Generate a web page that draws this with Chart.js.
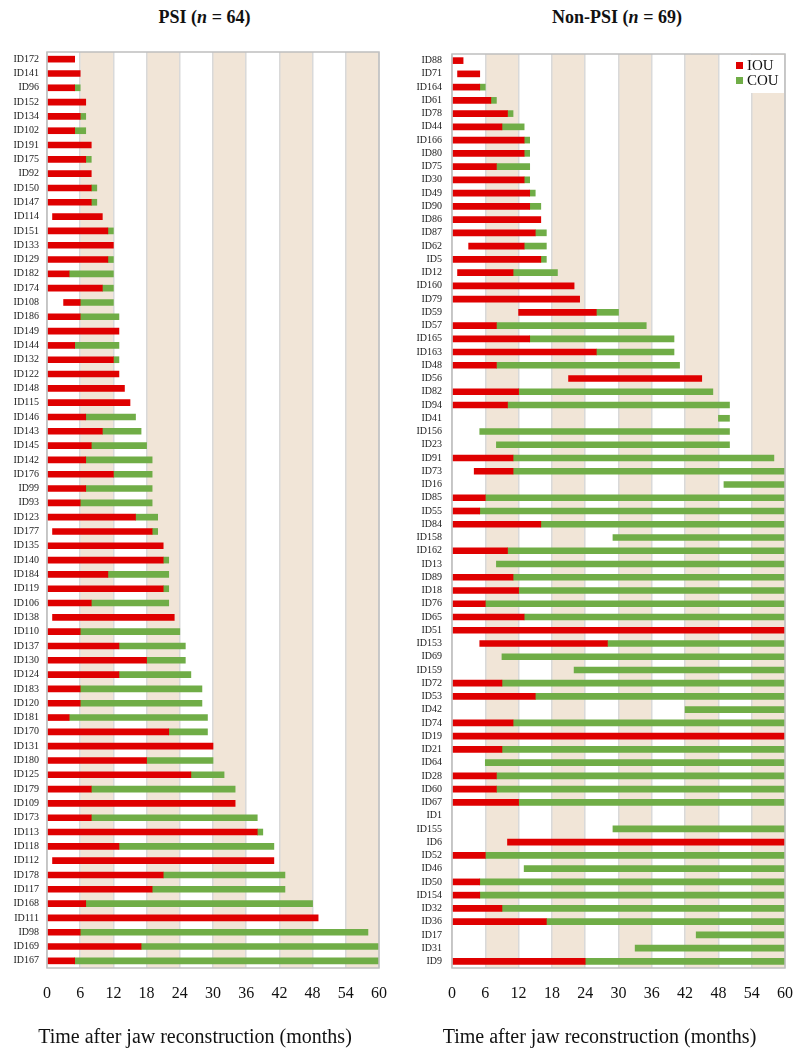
<!DOCTYPE html>
<html>
<head>
<meta charset="utf-8">
<script src="https://cdn.jsdelivr.net/npm/chart.js@4.4.1/dist/chart.umd.min.js"></script>
<style>
  body { margin: 0; background: #fff; width: 799px; height: 1057px; position: relative; overflow: hidden; }
  .panel { position: absolute; top: 0; height: 1057px; }
  .title { position: absolute; top: 7px; font: bold 18px "Liberation Serif", serif; color: #111; text-align: center; }
</style>
</head>
<body>
<div class="title" style="left:0; width:409px;">PSI (<i>n</i> = 64)</div>
<div class="title" style="left:400px; width:434px;">Non-PSI (<i>n</i> = 69)</div>
<div class="panel" style="left:0; width:400px;"><canvas id="psi-chart"></canvas></div>
<div class="panel" style="left:400px; width:399px;"><canvas id="nonpsi-chart"></canvas></div>
<script>
// PSI group: patient ids, start of IOU, end of IOU, end of COU (months)
const psiIds = ['ID172','ID141','ID96','ID152','ID134','ID102','ID191','ID175','ID92','ID150',
  'ID147','ID114','ID151','ID133','ID129','ID182','ID174','ID108','ID186','ID149',
  'ID144','ID132','ID122','ID148','ID115','ID146','ID143','ID145','ID142','ID176',
  'ID99','ID93','ID123','ID177','ID135','ID140','ID184','ID119','ID106','ID138',
  'ID110','ID137','ID130','ID124','ID183','ID120','ID181','ID170','ID131','ID180',
  'ID125','ID179','ID109','ID173','ID113','ID118','ID112','ID178','ID117','ID168',
  'ID111','ID98','ID169','ID167'];
const psiStart = [0,0,0,0,0,0,0,0,0,0,
  0,1,0,0,0,0,0,3,0,0,
  0,0,0,0,0,0,0,0,0,0,
  0,0,0,1,0,0,0,0,0,1,
  0,0,0,0,0,0,0,0,0,0,
  0,0,0,0,0,0,1,0,0,0,
  0,0,0,0];
const psiIouEnd = [5,6,5,7,6,5,8,7,8,8,
  8,10,11,12,11,4,10,6,6,13,
  5,12,13,14,15,7,10,8,7,12,
  7,6,16,19,21,21,11,21,8,23,
  6,13,18,13,6,6,4,22,30,18,
  26,8,34,8,38,13,41,21,19,7,
  49,6,17,5];
const psiCouEnd = [5,6,6,7,7,7,8,8,8,9,
  9,10,12,12,12,12,12,12,13,13,
  13,13,13,14,15,16,17,18,19,19,
  19,19,20,20,21,22,22,22,22,23,
  24,25,25,26,28,28,29,29,30,30,
  32,34,34,38,39,41,41,43,43,48,
  49,58,60,60];

// Non-PSI group (ID1 has no recorded period)
const nonPsiIds = ['ID88','ID71','ID164','ID61','ID78','ID44','ID166','ID80','ID75','ID30',
  'ID49','ID90','ID86','ID87','ID62','ID5','ID12','ID160','ID79','ID59',
  'ID57','ID165','ID163','ID48','ID56','ID82','ID94','ID41','ID156','ID23',
  'ID91','ID73','ID16','ID85','ID55','ID84','ID158','ID162','ID13','ID89',
  'ID18','ID76','ID65','ID51','ID153','ID69','ID159','ID72','ID53','ID42',
  'ID74','ID19','ID21','ID64','ID28','ID60','ID67','ID1','ID155','ID6',
  'ID52','ID46','ID50','ID154','ID32','ID36','ID17','ID31','ID9'];
const nonPsiStart = [0,1,0,0,0,0,0,0,0,0,
  0,0,0,0,3,0,1,0,0,12,
  0,0,0,0,21,0,0,48,5,8,
  0,4,49,0,0,0,29,0,8,0,
  0,0,0,0,5,9,22,0,0,42,
  0,0,0,6,0,0,0,null,29,10,
  0,13,0,0,0,0,44,33,0];
const nonPsiIouEnd = [2,5,5,7,10,9,13,13,8,13,
  14,14,16,15,13,16,11,22,23,26,
  8,14,26,8,45,12,10,48,5,8,
  11,11,49,6,5,16,29,10,8,11,
  12,6,13,60,28,9,22,9,15,42,
  11,60,9,6,8,8,12,null,29,60,
  6,13,5,5,9,17,44,33,24];
const nonPsiCouEnd = [2,5,6,8,11,13,14,14,14,14,
  15,16,16,17,17,17,19,22,23,30,
  35,40,40,41,45,47,50,50,50,50,
  58,60,60,60,60,60,60,60,60,60,
  60,60,60,60,60,60,60,60,60,60,
  60,60,60,60,60,60,60,null,60,60,
  60,60,60,60,60,60,60,60,60];

// Axis ticks and shaded 6-month bands
const monthTicks = [0, 6, 12, 18, 24, 30, 36, 42, 48, 54, 60];
const shadedBands = [[6, 12], [18, 24], [30, 36], [42, 48], [54, 60]];

const IOU_COLOR = '#df0000';
const COU_COLOR = '#70ad47';
const BAND_COLOR = '#f1e5d7';
const GRID_COLOR = '#d9d9d9';
const SERIF = '"Liberation Serif", "DejaVu Serif", serif';

/**
 * Background bands behind the grid, and a full border round the plot
 */
const bandsPlugin = {
  id: 'bands',
  beforeDraw(chart) {
    const { ctx, chartArea, scales } = chart;
    ctx.save();
    ctx.fillStyle = BAND_COLOR;
    shadedBands.forEach(([a, b]) => {
      const x0 = scales.x.getPixelForValue(a);
      const x1 = scales.x.getPixelForValue(b);
      ctx.fillRect(x0, chartArea.top, x1 - x0, chartArea.bottom - chartArea.top);
    });
    ctx.restore();
  },
  afterDraw(chart) {
    const { ctx, chartArea } = chart;
    ctx.save();
    ctx.strokeStyle = '#bfbfbf';
    ctx.lineWidth = 1.5;
    ctx.strokeRect(chartArea.left, chartArea.top, chartArea.right - chartArea.left, chartArea.bottom - chartArea.top);
    ctx.restore();
  }
};

/**
 * Legend box drawn inside the top-right corner of the plot
 */
const cornerLegendPlugin = {
  id: 'cornerLegend',
  afterDatasetsDraw(chart) {
    const { ctx, chartArea } = chart;
    const right = chartArea.right;
    const top = chartArea.top;
    ctx.save();
    ctx.fillStyle = '#fff';
    ctx.fillRect(right - 54, top + 1, 53, 38);
    const items = [['IOU', IOU_COLOR], ['COU', COU_COLOR]];
    ctx.font = '15px ' + SERIF;
    ctx.textBaseline = 'middle';
    items.forEach(([label, color], i) => {
      const y = top + 11.5 + i * 15;
      ctx.fillStyle = color;
      ctx.fillRect(right - 49, y - 3.5, 7, 7);
      ctx.fillStyle = '#111';
      ctx.fillText(label, right - 38, y + 0.5);
    });
    ctx.restore();
  }
};

function buildChart(canvasId, ids, starts, iouEnds, couEnds, opts) {
  const iouData = ids.map((_, i) =>
    starts[i] !== null && iouEnds[i] > starts[i] ? [starts[i], iouEnds[i]] : null);
  const couData = ids.map((_, i) =>
    iouEnds[i] !== null && couEnds[i] > iouEnds[i] ? [iouEnds[i], couEnds[i]] : null);

  const canvas = document.getElementById(canvasId);
  canvas.width = opts.width;
  canvas.height = 1057;

  const plugins = [bandsPlugin];
  if (opts.legend) plugins.push(cornerLegendPlugin);

  return new Chart(canvas.getContext('2d'), {
    type: 'bar',
    data: {
      labels: ids,
      datasets: [
        { label: 'IOU', data: iouData, backgroundColor: IOU_COLOR, barThickness: 6, grouped: false },
        { label: 'COU', data: couData, backgroundColor: COU_COLOR, barThickness: 6, grouped: false }
      ]
    },
    plugins: plugins,
    options: {
      indexAxis: 'y',
      responsive: false,
      animation: false,
      layout: {
        padding: { top: opts.top, right: opts.titlePad, left: 0, bottom: 0 }
      },
      plugins: {
        legend: { display: false },
        tooltip: { enabled: false },
        title: {
          display: true,
          position: 'bottom',
          text: 'Time after jaw reconstruction (months)',
          color: '#111',
          font: { family: SERIF, size: 20, weight: 'normal' },
          padding: { top: 10, bottom: 7 }
        }
      },
      scales: {
        x: {
          type: 'linear',
          min: 0,
          max: 60,
          afterBuildTicks: (scale) => {
            scale.ticks = monthTicks.map(v => ({ value: v }));
          },
          afterFit: (scale) => {
            scale.height = 48;
            scale.paddingLeft = 0;
            scale.paddingRight = opts.right;
          },
          grid: { color: GRID_COLOR, lineWidth: 1.5, drawTicks: false },
          border: { display: false },
          ticks: {
            color: '#111',
            padding: 16,
            font: { family: SERIF, size: 16 }
          }
        },
        y: {
          type: 'category',
          afterFit: (scale) => { scale.width = opts.axisWidth; },
          grid: { display: false, drawTicks: false },
          border: { display: false },
          ticks: {
            color: '#222',
            padding: opts.labelPad,
            autoSkip: false,
            font: { family: SERIF, size: 10 }
          }
        }
      }
    }
  });
}

buildChart('psi-chart', psiIds, psiStart, psiIouEnd, psiCouEnd,
  { width: 400, top: 52, right: 21, titlePad: 10, axisWidth: 47, labelPad: 8, legend: false });
buildChart('nonpsi-chart', nonPsiIds, nonPsiStart, nonPsiIouEnd, nonPsiCouEnd,
  { width: 399, top: 54, right: 14, titlePad: 0, axisWidth: 52, labelPad: 10, legend: true });
</script>
</body>
</html>
